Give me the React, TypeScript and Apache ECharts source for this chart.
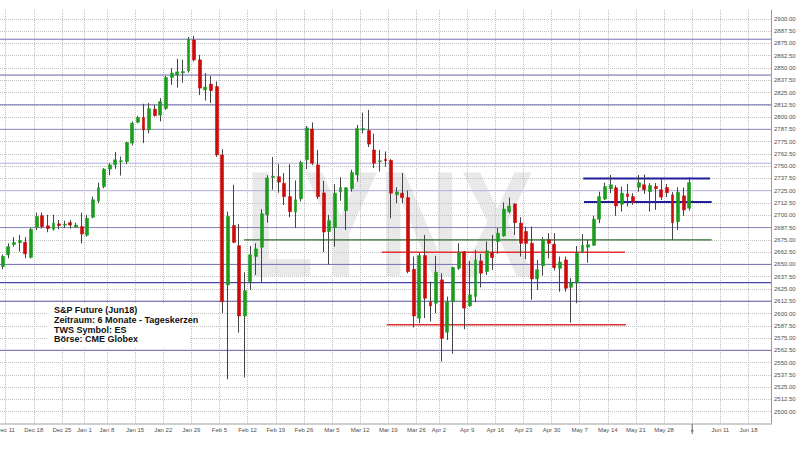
import React, { useEffect, useRef } from "react";
import * as echarts from "echarts";

// ---------- data ----------
const tradingDays = [
  "2017-12-08",
  "2017-12-11", "2017-12-12", "2017-12-13", "2017-12-14", "2017-12-15",
  "2017-12-18", "2017-12-19", "2017-12-20", "2017-12-21", "2017-12-22",
  "2017-12-26", "2017-12-27", "2017-12-28", "2017-12-29",
  "2018-01-02", "2018-01-03", "2018-01-04", "2018-01-05",
  "2018-01-08", "2018-01-09", "2018-01-10", "2018-01-11", "2018-01-12",
  "2018-01-15", "2018-01-16", "2018-01-17", "2018-01-18", "2018-01-19",
  "2018-01-22", "2018-01-23", "2018-01-24", "2018-01-25", "2018-01-26",
  "2018-01-29", "2018-01-30", "2018-01-31", "2018-02-01", "2018-02-02",
  "2018-02-05", "2018-02-06", "2018-02-07", "2018-02-08", "2018-02-09",
  "2018-02-12", "2018-02-13", "2018-02-14", "2018-02-15", "2018-02-16",
  "2018-02-19", "2018-02-20", "2018-02-21", "2018-02-22", "2018-02-23",
  "2018-02-26", "2018-02-27", "2018-02-28", "2018-03-01", "2018-03-02",
  "2018-03-05", "2018-03-06", "2018-03-07", "2018-03-08", "2018-03-09",
  "2018-03-12", "2018-03-13", "2018-03-14", "2018-03-15", "2018-03-16",
  "2018-03-19", "2018-03-20", "2018-03-21", "2018-03-22", "2018-03-23",
  "2018-03-26", "2018-03-27", "2018-03-28", "2018-03-29",
  "2018-04-02", "2018-04-03", "2018-04-04", "2018-04-05", "2018-04-06",
  "2018-04-09", "2018-04-10", "2018-04-11", "2018-04-12", "2018-04-13",
  "2018-04-16", "2018-04-17", "2018-04-18", "2018-04-19", "2018-04-20",
  "2018-04-23", "2018-04-24", "2018-04-25", "2018-04-26", "2018-04-27",
  "2018-04-30", "2018-05-01", "2018-05-02", "2018-05-03", "2018-05-04",
  "2018-05-07", "2018-05-08", "2018-05-09", "2018-05-10", "2018-05-11",
  "2018-05-14", "2018-05-15", "2018-05-16", "2018-05-17", "2018-05-18",
  "2018-05-21", "2018-05-22", "2018-05-23", "2018-05-24", "2018-05-25",
  "2018-05-28", "2018-05-29", "2018-05-30", "2018-05-31", "2018-06-01",
  "2018-06-04", "2018-06-05", "2018-06-06", "2018-06-07", "2018-06-08",
  "2018-06-11", "2018-06-12", "2018-06-13", "2018-06-14", "2018-06-15",
  "2018-06-18", "2018-06-19", "2018-06-20", "2018-06-21",
];

const weekLabels = [
  "Dec 11", "Dec 18", "Dec 25", "Jan 1", "Jan 8", "Jan 15", "Jan 22", "Jan 29",
  "Feb 5", "Feb 12", "Feb 19", "Feb 26", "Mar 5", "Mar 12", "Mar 19", "Mar 26",
  "Apr 2", "Apr 9", "Apr 16", "Apr 23", "Apr 30", "May 7", "May 14", "May 21",
  "May 28", "»", "Jun 11", "Jun 18",
];

const opens = [
  2647.75, 2659.75, 2670.25, 2672.25, 2672.5, 2657.25, 2687.5, 2699.5, 2689.25, 2685.75,
  2691.25, 2690.0, 2692.5, 2688.0, 2688.5, 2679.75, 2698.0, 2714.5, 2729.25, 2747.0,
  2751.5, 2754.75, 2754.75, 2773.5, 2794.75, 2799.5, 2787.0, 2808.0, 2802.0, 2808.75,
  2840.5, 2842.75, 2845.0, 2847.0, 2878.5, 2858.25, 2827.75, 2833.5, 2831.0, 2761.5,
  2629.0, 2689.5, 2669.0, 2597.5, 2632.5, 2658.0, 2667.5, 2700.5, 2738.5, 2739.25,
  2732.5, 2719.0, 2703.25, 2716.75, 2756.5, 2787.75, 2751.25, 2722.75, 2683.5, 2687.5,
  2723.75, 2704.75, 2727.0, 2741.0, 2787.0, 2786.25, 2766.5, 2754.75, 2757.0, 2756.0,
  2721.0, 2722.5, 2718.0, 2645.0, 2595.25, 2659.0, 2612.0, 2610.5, 2634.25, 2581.0,
  2612.0, 2646.0, 2662.75, 2607.75, 2617.25, 2653.5, 2642.75, 2662.0, 2673.25, 2679.0,
  2703.75, 2711.5, 2692.0, 2683.5, 2671.5, 2635.25, 2648.5, 2675.0, 2670.5, 2646.0,
  2654.5, 2626.75, 2631.5, 2662.5, 2667.5, 2669.5, 2696.0, 2716.5, 2727.0, 2728.0,
  2711.25, 2721.75, 2719.0, 2728.5, 2731.0, 2724.0, 2729.25, 2726.0, 2728.25, 2720.75,
  2693.5, 2719.75, 2707.25,
];
const closes = [
  2658.0, 2668.0, 2672.25, 2674.25, 2660.75, 2685.75, 2698.75, 2688.5, 2686.5, 2692.0,
  2689.5, 2691.0, 2690.0, 2690.0, 2681.0, 2697.0, 2715.75, 2728.0, 2747.0, 2751.25,
  2756.5, 2755.5, 2774.0, 2793.75, 2799.5, 2787.0, 2808.5, 2801.5, 2815.75, 2840.25,
  2844.75, 2846.0, 2846.25, 2879.25, 2858.25, 2829.5, 2830.5, 2827.0, 2761.5, 2612.0,
  2698.75, 2672.5, 2597.5, 2623.25, 2659.75, 2665.75, 2701.5, 2738.0, 2739.75, 2733.75,
  2719.0, 2703.75, 2715.75, 2753.75, 2789.0, 2753.0, 2719.0, 2683.0, 2694.5, 2722.5,
  2728.25, 2728.0, 2743.5, 2788.25, 2788.25, 2772.5, 2753.0, 2755.5, 2755.5, 2722.5,
  2723.75, 2718.0, 2642.75, 2597.5, 2659.0, 2615.5, 2607.75, 2642.0, 2574.75, 2612.0,
  2646.75, 2662.0, 2605.5, 2619.0, 2654.5, 2641.0, 2663.75, 2657.0, 2681.75, 2706.25,
  2709.5, 2692.5, 2671.5, 2671.5, 2635.25, 2644.5, 2675.0, 2671.5, 2646.75, 2652.25,
  2625.75, 2631.5, 2661.5, 2669.5, 2670.0, 2696.0, 2719.0, 2729.25, 2731.0, 2709.5,
  2722.5, 2719.0, 2713.25, 2733.25, 2726.0, 2730.25, 2727.25, 2718.5, 2723.0, 2692.5,
  2723.5, 2705.5, 2733.25,
];
const lows = [
  2645.0, 2656.25, 2668.0, 2663.0, 2656.25, 2656.0, 2685.0, 2686.5, 2682.75, 2684.5,
  2685.75, 2687.0, 2686.5, 2687.25, 2671.5, 2678.25, 2697.0, 2712.25, 2727.5, 2740.75,
  2747.25, 2740.5, 2752.0, 2771.0, 2793.75, 2773.5, 2783.5, 2800.5, 2795.5, 2807.25,
  2832.75, 2830.0, 2835.0, 2845.25, 2856.5, 2822.5, 2816.75, 2814.25, 2759.5, 2600.25,
  2533.0, 2671.5, 2580.5, 2534.75, 2624.0, 2639.25, 2631.0, 2692.5, 2726.0, 2723.0,
  2710.5, 2698.0, 2687.0, 2714.0, 2747.0, 2751.25, 2716.5, 2662.5, 2650.0, 2668.0,
  2714.75, 2685.0, 2724.0, 2734.25, 2783.5, 2769.5, 2748.0, 2744.5, 2749.5, 2697.0,
  2712.25, 2712.25, 2641.0, 2585.75, 2590.0, 2595.25, 2591.75, 2600.25, 2551.0, 2573.0,
  2559.0, 2644.5, 2584.0, 2607.0, 2611.5, 2626.5, 2639.25, 2644.5, 2660.75, 2678.25,
  2702.0, 2680.0, 2658.0, 2655.25, 2614.0, 2624.0, 2638.5, 2656.25, 2643.75, 2622.25,
  2622.25, 2590.75, 2610.5, 2662.0, 2651.75, 2668.75, 2692.0, 2715.75, 2722.5, 2699.5,
  2703.75, 2709.0, 2710.5, 2724.0, 2721.75, 2703.75, 2705.5, 2715.75, 2718.5, 2675.0,
  2685.0, 2699.5, 2704.75,
];
const highs = [
  2660.0, 2671.5, 2677.75, 2680.0, 2677.75, 2687.25, 2702.75, 2702.75, 2700.5, 2700.5,
  2695.25, 2694.5, 2695.25, 2692.5, 2702.75, 2700.5, 2719.0, 2733.25, 2748.0, 2753.0,
  2764.5, 2759.75, 2775.0, 2795.5, 2801.25, 2813.5, 2814.25, 2812.5, 2819.25, 2842.0,
  2849.75, 2859.25, 2858.25, 2881.5, 2882.75, 2863.25, 2844.75, 2842.0, 2836.25, 2767.25,
  2703.75, 2731.0, 2691.25, 2642.0, 2668.75, 2671.5, 2706.25, 2740.75, 2759.25, 2752.0,
  2743.0, 2752.0, 2735.5, 2755.5, 2791.0, 2794.5, 2766.5, 2735.0, 2700.5, 2731.75,
  2738.75, 2728.25, 2746.25, 2792.0, 2804.5, 2807.25, 2783.0, 2766.5, 2765.0, 2757.0,
  2728.5, 2743.0, 2725.25, 2658.0, 2661.5, 2680.0, 2632.5, 2658.75, 2641.0, 2617.25,
  2647.75, 2671.5, 2663.75, 2653.5, 2664.75, 2660.75, 2673.25, 2680.0, 2687.0, 2713.0,
  2718.0, 2712.25, 2698.0, 2688.5, 2688.5, 2654.5, 2677.75, 2681.75, 2681.75, 2658.0,
  2658.0, 2636.0, 2668.75, 2681.0, 2675.0, 2699.5, 2724.0, 2733.25, 2741.0, 2730.5,
  2729.25, 2732.0, 2722.5, 2741.0, 2741.5, 2732.75, 2732.75, 2737.0, 2731.75, 2723.5,
  2728.5, 2728.25, 2738.75,
];

// horizontal support / resistance levels across the whole chart
const levelValues = [2879.25, 2842.75, 2812.5, 2787.5, 2753, 2725, 2687.5, 2650, 2631.5, 2612.5, 2562.5];

// short trend-channel segments (x in trading-day index units)
const segmentValues = [2675, 2662.25, 2588.5, 2737.5, 2713.5];
const segmentStarts = [42.85, 67.32, 68.21, 103.14, 103.27];
const segmentEnds = [125.96, 110.55, 110.73, 125.66, 125.96];

const infoLines = [
  "S&P Future (Jun18)",
  "Zeitraum: 6 Monate - Tageskerzen",
  "TWS Symbol: ES",
  "Börse: CME Globex",
];

// ---------- styles ----------
const levelColors = ["#7272b0", "#6868aa", "#6c6cae", "#8c8cc4", "#b0b0dc", "#b4b4e0", "#8686c0", "#6e6eb0", "#4646a6", "#5c5ca8", "#6868ae"];
const levelWidths = [1, 1, 1, 1, 1, 1, 1, 1, 1.3, 1, 1];
const segmentColors = ["#2f6e2f", "#e03030", "#e03030", "#1f1f9c", "#1f1f9c"];
const segmentWidths = [1.2, 1.5, 1.5, 2, 2];

const FONT = "Liberation Sans";
const UP = "#1c9c1c";
const DOWN = "#cc0a0a";
const WICK = "#444444";

export default function App() {
  const ref = useRef<HTMLDivElement>(null);

  useEffect(() => {
    document.body.style.margin = "0";
    const chart = echarts.init(ref.current!, null, { renderer: "svg" });

    const n = tradingDays.length;
    const dayNum = tradingDays.map((d) => Date.parse(d + "T00:00:00Z") / 86400000);
    const labelMap = new Map<number, string>();
    let w = 0;
    for (let i = 1; i < n; i++) {
      const dow = new Date(dayNum[i] * 86400000).getUTCDay();
      const prev = new Date(dayNum[i - 1] * 86400000).getUTCDay();
      if (dow < prev || dayNum[i] - dayNum[i - 1] > 3) {
        labelMap.set(i, weekLabels[w++]);
      }
    }
    const markerIdx = tradingDays.indexOf("2018-06-04");

    const gridLeft = 0;
    const gridWidth = 771;
    const band = gridWidth / n;

    const dotted = { color: "#c2c2c2", type: [1, 1] as any, width: 1 };

    const lineSeries: any[] = [];
    levelValues.forEach((v, i) => {
      lineSeries.push({
        type: "line",
        xAxisIndex: 1,
        yAxisIndex: 0,
        data: [[-0.5, v], [n - 0.5, v]],
        symbol: "none",
        silent: true,
        z: 2,
        lineStyle: { color: levelColors[i], width: levelWidths[i] },
      });
    });
    segmentValues.forEach((v, i) => {
      lineSeries.push({
        type: "line",
        xAxisIndex: 1,
        yAxisIndex: 0,
        data: [[segmentStarts[i], v], [segmentEnds[i], v]],
        symbol: "none",
        silent: true,
        z: 2,
        lineStyle: { color: segmentColors[i], width: segmentWidths[i] },
      });
    });

    const option: any = {
      animation: false,
      backgroundColor: "#ffffff",
      textStyle: { fontFamily: FONT },
      grid: {
        left: gridLeft,
        width: gridWidth,
        top: 10,
        bottom: 26,
        containLabel: false,
        outerBoundsMode: "none",
      },
      xAxis: [
        {
          type: "category",
          data: tradingDays,
          boundaryGap: true,
          axisLine: { onZero: false, lineStyle: { color: "#cfcfcf", width: 2 } },
          axisTick: { show: false },
          axisLabel: {
            interval: (i: number) => labelMap.has(i),
            formatter: (_v: string, i: number) => labelMap.get(i) ?? "",
            fontSize: 6,
            color: "#505050",
            fontFamily: FONT,
            margin: 3,
            padding: [0, band, 0, 0],
            hideOverlap: false,
          },
          splitLine: { show: true, interval: (i: number) => labelMap.has(i), lineStyle: dotted },
        },
        {
          type: "value",
          min: -0.5,
          max: n - 0.5,
          show: false,
          splitLine: { show: false },
        },
      ],
      yAxis: {
        type: "value",
        position: "right",
        min: 2487.5,
        max: 2909,
        interval: 12.5,
        axisLine: { show: true, onZero: false, lineStyle: { color: "#9a9a9a", width: 1 } },
        axisTick: { show: false },
        axisLabel: {
          formatter: (v: number) => (v >= 2500 && v <= 2900 ? v.toFixed(2) : ""),
          fontSize: 6,
          color: "#505050",
          fontFamily: FONT,
          margin: 3,
          showMaxLabel: false,
        },
        splitLine: { show: true, showMaxLine: false, lineStyle: dotted },
      },
      series: [
        ...lineSeries,
        {
          type: "candlestick",
          name: "wick",
          xAxisIndex: 0,
          data: opens.map((o, i) => [o, closes[i], lows[i], highs[i]]),
          barWidth: 0.1,
          z: 3,
          silent: true,
          itemStyle: { color: WICK, color0: WICK, borderColor: WICK, borderColor0: WICK, borderWidth: 1 },
        },
        {
          type: "candlestick",
          name: "body",
          xAxisIndex: 0,
          data: opens.map((o, i) => [o, closes[i], Math.min(o, closes[i]), Math.max(o, closes[i])]),
          barWidth: 3.4,
          z: 4,
          silent: true,
          itemStyle: { color: UP, color0: DOWN, borderColor: UP, borderColor0: DOWN, borderWidth: 0.6 },
        },
      ],
    };
    chart.setOption(option);

    const mx = chart.convertToPixel({ xAxisIndex: 1 } as any, markerIdx - 0.5) as unknown as number;
    const bottomY = 450 - 26;
    const graphics: any[] = [
      {
        type: "text",
        x: 245,
        y: 223.5,
        scaleX: 0.75,
        z: -1,
        silent: true,
        style: {
          text: "LYNX",
          font: `bold 150px "${FONT}"`,
          fill: "#e9e9e9",
          textAlign: "left",
          textVerticalAlign: "middle",
          align: "left",
          verticalAlign: "middle",
        },
      },
      {
        type: "rect",
        z: 1,
        silent: true,
        shape: { x: 48, y: 303, width: 142, height: 44 },
        style: { fill: "#ffffff" },
      },
      ...infoLines.map((t, i) => ({
        type: "text",
        x: 54,
        y: 310.3 + i * 9.7,
        z: 1,
        silent: true,
        style: {
          text: t,
          font: `bold 9px "${FONT}"`,
          fill: "#111111",
          textVerticalAlign: "middle",
          verticalAlign: "middle",
        },
      })),
      {
        type: "line",
        z: 5,
        silent: true,
        shape: { x1: mx, y1: bottomY, x2: mx, y2: bottomY + 10 },
        style: { stroke: "#666666", lineWidth: 1 },
      },
    ];
    chart.setOption({ graphic: graphics });

    return () => chart.dispose();
  }, []);

  return <div ref={ref} style={{ width: 800, height: 450 }} />;
}
